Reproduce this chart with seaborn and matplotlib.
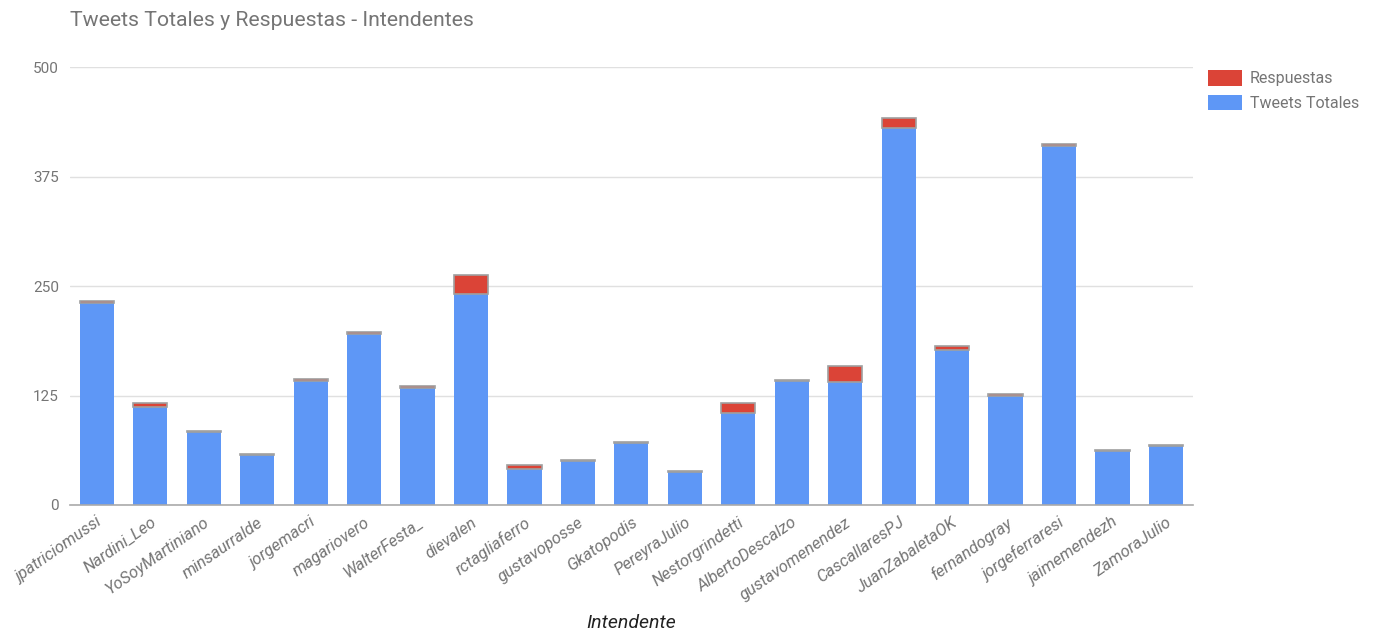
import matplotlib
matplotlib.use("Agg")
import matplotlib.pyplot as plt
import seaborn as sns
import pandas as pd
from matplotlib.patches import Patch

intendentes = [
    "jpatriciomussi", "Nardini_Leo", "YoSoyMartiniano", "minsaurralde", "jorgemacri",
    "magariovero", "WalterFesta_", "dievalen", "rctagliaferro", "gustavoposse",
    "Gkatopodis", "PereyraJulio", "Nestorgrindetti", "AlbertoDescalzo", "gustavomenendez",
    "CascallaresPJ", "JuanZabaletaOK", "fernandogray", "jorgeferraresi", "jaimemendezh",
    "ZamoraJulio",
]
tweets_totales = [231, 112, 83, 57, 142, 195, 134, 241, 41, 50, 71, 38, 105, 142, 140,
                  430, 177, 125, 410, 62, 67]
respuestas = [2, 4, 1, 1, 2, 2, 1.5, 22, 5, 1, 1, 1, 11, 1, 19, 12, 5, 2, 2, 1, 1.5]
y_ticks = [0, 125, 250, 375, 500]

BLUE = "#5e97f6"
RED = "#db4437"
GREY_TEXT = "#757575"

sns.set_theme(style="white")
plt.rcParams["font.family"] = ["Roboto", "DejaVu Sans"]

df = pd.DataFrame({"Intendente": intendentes, "Tweets Totales": tweets_totales,
                   "Respuestas": respuestas})

fig = plt.figure(figsize=(13.74, 6.34), dpi=100)
ax = fig.add_axes([0.051, 0.2035, 0.817, 0.6905])

sns.barplot(data=df, x="Intendente", y="Tweets Totales", color=BLUE, saturation=1,
            width=0.64, ax=ax, zorder=2, linewidth=0)
# Replies stacked on top of the total tweets
ax.bar(range(len(intendentes)), df["Respuestas"], bottom=df["Tweets Totales"],
       width=0.64, color=RED, edgecolor="#a0a0a0", linewidth=1.2, zorder=3)

ax.set_xlim(-0.5, len(intendentes) - 0.5)
ax.set_ylim(0, 500)
ax.set_yticks(y_ticks)
ax.set_yticklabels([str(v) for v in y_ticks], color=GREY_TEXT, fontsize=11)
ax.yaxis.grid(True, color="#e0e0e0", linewidth=1, zorder=0)
ax.set_axisbelow(True)
for s in ["top", "right", "left"]:
    ax.spines[s].set_visible(False)
ax.spines["bottom"].set_color("#aaaaaa")
ax.spines["bottom"].set_linewidth(1.2)
ax.tick_params(axis="both", length=0, pad=8)

ax.set_xticks(range(len(intendentes)))
ax.set_xticklabels(intendentes, rotation=35, ha="right", rotation_mode="anchor",
                   fontstyle="italic", color=GREY_TEXT, fontsize=12)
ax.tick_params(axis="x", pad=7)
ax.set_ylabel("")
ax.set_xlabel("Intendente", fontstyle="italic", color="#222222", fontsize=14, labelpad=8)

fig.text(0.051, 0.967, "Tweets Totales y Respuestas - Intendentes", fontsize=15.3,
         color=GREY_TEXT, ha="left", va="center")

handles = [Patch(facecolor=RED, edgecolor="none"), Patch(facecolor=BLUE, edgecolor="none")]
fig.legend(handles, ["Respuestas", "Tweets Totales"], loc="upper left",
           bbox_to_anchor=(0.869, 0.912), frameon=False, fontsize=11.5,
           labelcolor=GREY_TEXT, handlelength=2.1, handleheight=1.1, labelspacing=0.55,
           handletextpad=0.5)

fig.savefig("out.png", dpi=100)
